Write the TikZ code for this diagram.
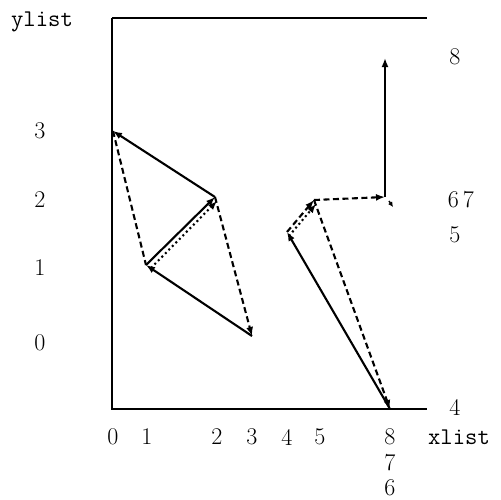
\documentclass[tikz,border=0pt]{standalone}
\usetikzlibrary{arrows.meta}
\begin{document}
\begin{tikzpicture}[x=1pt,y=-1pt,
  lbl/.style={inner sep=0pt,font=\fontsize{24}{28}\selectfont},
  ttl/.style={inner sep=0pt,font=\ttfamily\fontsize{24}{28}\selectfont},
  edge/.style={line width=2.1pt,-{Latex[length=9pt,width=7pt]}},
  dedge/.style={edge,dash pattern=on 6pt off 3.5pt},
  dotedge/.style={edge,dash pattern=on 2pt off 3pt},
  axis/.style={line width=1.8pt}]
\useasboundingbox (0,0) rectangle (501,499);
% axes frame
\coordinate (TL) at (112,18);
\coordinate (TR) at (427,18);
\coordinate (BL) at (112,409);
\coordinate (BR) at (427,409);
\draw[line width=1.1pt] (TL) -- (TR);
\draw[axis] (TL) -- (BL) -- (BR);
% vertices
\coordinate (A) at (113,131);
\coordinate (B) at (215,197);
\coordinate (C) at (146,265);
\coordinate (D) at (252,336);
\coordinate (B2) at (217,201);
\coordinate (C2) at (151,268);
\coordinate (E) at (287,232);
\coordinate (F) at (314,200);
\coordinate (E2) at (289,236);
\coordinate (F2) at (316,204);
\coordinate (G) at (385,197);
\coordinate (H) at (385,58);
\coordinate (I) at (390,409);
\coordinate (J1) at (389,201);
\coordinate (J2) at (393,207);
% left group
\draw[edge] (B) -- (A);
\draw[dedge,-] (A) -- (C);
\draw[edge] (C) -- (B);
\draw[dotedge] (C2) -- (B2);
\draw[edge] (D) -- (C);
\draw[dedge] (B) -- (D);
% right group
\draw[edge] (I) -- (E);
\draw[dedge] (E) -- (F);
\draw[dotedge] (E2) -- (F2);
\draw[dedge] (F) -- (I);
\draw[dedge] (F) -- (G);
\draw[edge] (G) -- (H);
\draw[line width=1.5pt,-{Latex[length=5pt,width=5pt]}] (J1) -- (J2);
% labels
\node[ttl] (yl) at (42,22) {ylist};
\node[ttl] (xl) at (459,437) {xlist};
\node[lbl] (y3) at (40,131) {3};
\node[lbl] (y2) at (40,200) {2};
\node[lbl] (y1) at (40,268) {1};
\node[lbl] (y0) at (40,343) {0};
\node[lbl] (r8) at (455,57) {8};
\node[lbl] (r67) at (461,200) {6\,7};
\node[lbl] (r5) at (455,235) {5};
\node[lbl] (r4) at (455,407) {4};
\node[lbl] (x0) at (113,437) {0};
\node[lbl] (x1) at (147,437) {1};
\node[lbl] (x2) at (217,437) {2};
\node[lbl] (x3) at (252,437) {3};
\node[lbl] (x4) at (287,437) {4};
\node[lbl] (x5) at (320,437) {5};
\node[lbl] (x8) at (390,437) {8};
\node[lbl] (x7) at (390,463) {7};
\node[lbl] (x6) at (390,488) {6};
\end{tikzpicture}
\end{document}
